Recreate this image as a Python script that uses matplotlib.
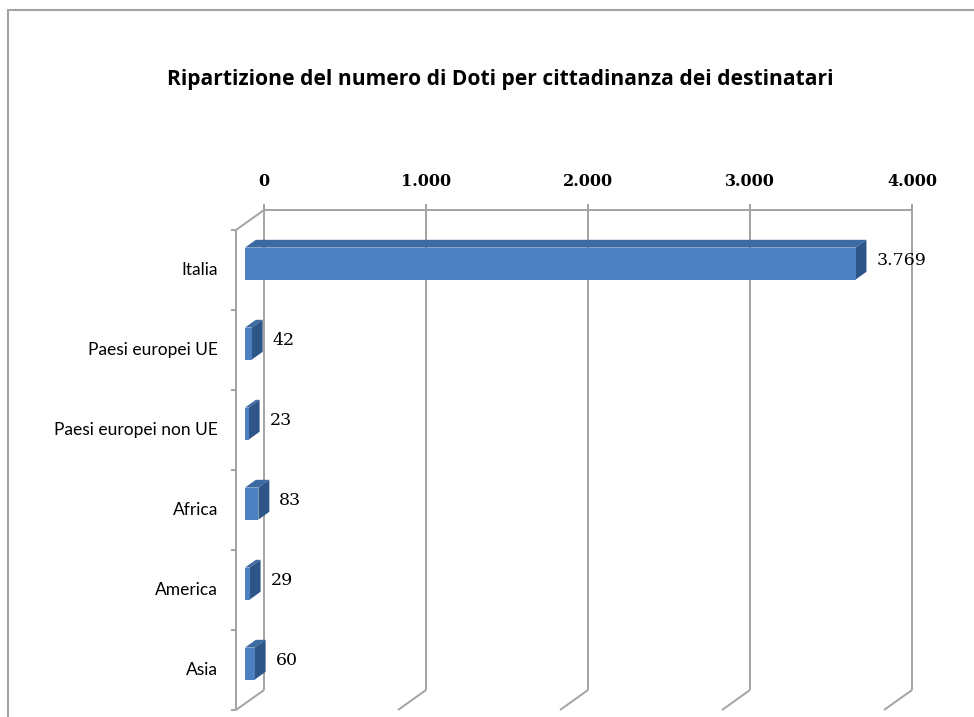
import matplotlib.pyplot as plt
from matplotlib.patches import Polygon, Rectangle

categories = ['Italia', 'Paesi europei UE', 'Paesi europei non UE', 'Africa', 'America', 'Asia']
values = [3769, 42, 23, 83, 29, 60]
value_labels = ['3.769', '42', '23', '83', '29', '60']
tick_values = [0, 1000, 2000, 3000, 4000]
tick_labels = ['0', '1.000', '2.000', '3.000', '4.000']

W, H = 974, 717
px_unit = 0.162          # pixels per value unit
px_cat = 80              # pixels per category
x0_px, y0_px = 264, 210  # back wall origin in pixels
DX = -28 / px_unit       # depth offset (front plane)
DY = 20 / px_cat
grid = '#a3a3a3'

fig = plt.figure(figsize=(W / 100, H / 100), dpi=100)
ax = fig.add_axes([0, 0, 1, 1])
ax.set_xlim(-x0_px / px_unit, (W - x0_px) / px_unit)
ax.set_ylim(-0.5 + (H - y0_px) / px_cat, -0.5 - y0_px / px_cat)
ax.axis('off')

n = len(categories)
top, bottom = -0.5, n - 0.5
vmax = tick_values[-1]

def line(xs, ys):
    ax.plot(xs, ys, color=grid, lw=1.4, solid_capstyle='butt', clip_on=False, zorder=1)

# back wall grid + floor
for v in tick_values:
    line([v, v], [top - 6 / px_cat, bottom])
    line([v, v + DX], [bottom, bottom + DY])
line([0, vmax], [top, top])
# side wall
line([0, DX], [top, top + DY])
line([DX, DX], [top + DY, bottom + DY])
for k in range(n + 1):
    line([DX - 5 / px_unit, DX], [top + k + DY, top + k + DY])

# bars (fake 3d)
f1, f0 = 0.68, 0.29
hh = 0.2
front_c, top_c, side_c = '#4c80c0', '#3c6aa3', '#2e5587'
for i, v in enumerate(values):
    fx, fy = f1 * DX, i + f1 * DY
    bx, by = f0 * DX, i + f0 * DY
    ax.add_patch(Polygon([(fx, fy - hh), (v + fx, fy - hh), (v + bx, by - hh), (bx, by - hh)],
                         closed=True, facecolor=top_c, edgecolor='none', zorder=3))
    ax.add_patch(Polygon([(v + fx, fy - hh), (v + fx, fy + hh), (v + bx, by + hh), (v + bx, by - hh)],
                         closed=True, facecolor=side_c, edgecolor='none', zorder=3))
    ax.add_patch(Rectangle((fx, fy - hh), v, 2 * hh, facecolor=front_c, edgecolor='none', zorder=3))
    ax.text(v + bx + 10 / px_unit, fy - 3 / px_cat, value_labels[i], ha='left', va='center',
            fontsize=12.5, family='DejaVu Serif', color='black')
    ax.text(DX - 18 / px_unit, i + DY, categories[i], ha='right', va='center',
            fontsize=12.5, family='Lato', color='black')

# top tick labels
for v, t in zip(tick_values, tick_labels):
    ax.text(v, top - 29 / px_cat, t, ha='center', va='center', fontsize=11.5,
            family='DejaVu Serif', fontweight='bold', color='black')

fig.text(500 / W, 1 - 80 / H, 'Ripartizione del numero di Doti per cittadinanza dei destinatari',
         ha='center', va='center', fontsize=15.1, family='Open Sans', fontweight='bold')

fig.patches.append(Rectangle((8 / W, -0.1), 1.2, 1 - 10 / H + 0.1, transform=fig.transFigure,
                             facecolor='none', edgecolor=grid, lw=1.5))

fig.savefig('out.png', dpi=100, facecolor='white')
